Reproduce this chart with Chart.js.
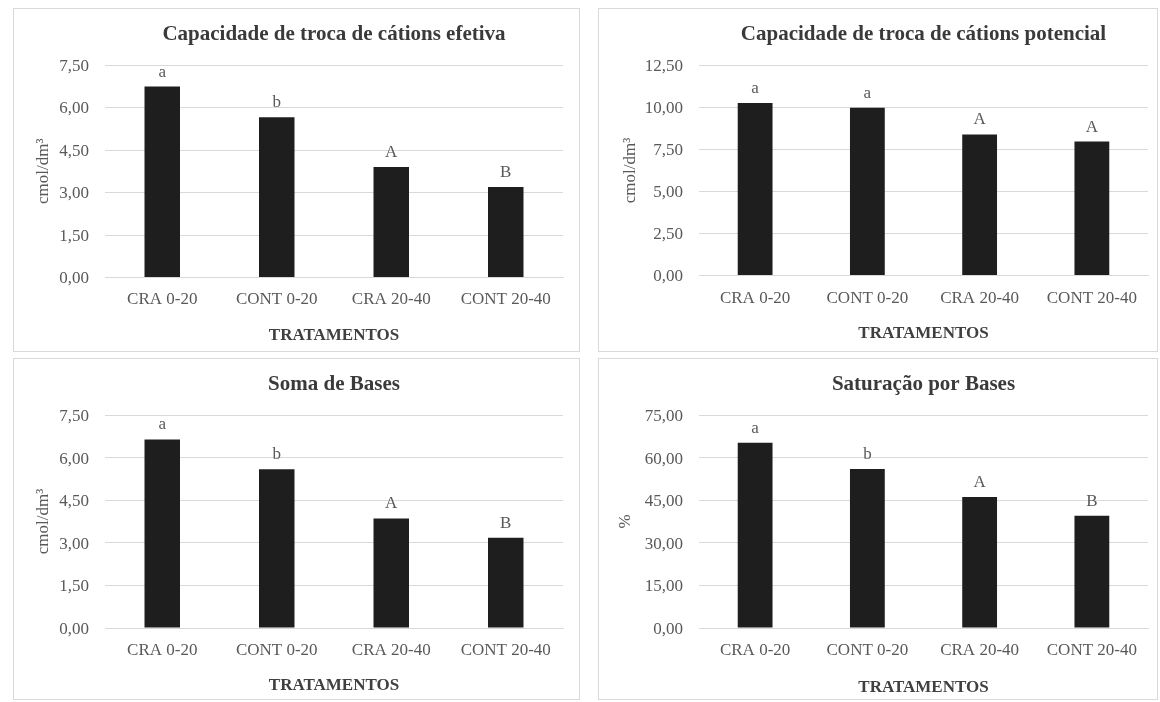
<!DOCTYPE html>
<html>
<head>
<meta charset="utf-8">
<title>Atributos químicos do solo</title>
<script src="https://cdn.jsdelivr.net/npm/chart.js@4.4.1/dist/chart.umd.min.js"></script>
<style>
  html, body { margin: 0; padding: 0; background: #ffffff; }
  body { width: 1160px; height: 702px; position: relative; overflow: hidden; }
  .panel { position: absolute; box-sizing: border-box; border: 1px solid #d9d9d9; background: #ffffff; }
  .panel canvas { display: block; }
</style>
</head>
<body>
<div class="panel" style="left:13px;top:8px;width:567px;height:344px"><canvas id="c1" width="565" height="342"></canvas></div>
<div class="panel" style="left:598px;top:8px;width:560px;height:344px"><canvas id="c2" width="558" height="342"></canvas></div>
<div class="panel" style="left:13px;top:358px;width:567px;height:342px"><canvas id="c3" width="565" height="340"></canvas></div>
<div class="panel" style="left:598px;top:358px;width:560px;height:342px"><canvas id="c4" width="558" height="340"></canvas></div>

<script>
// Tratamentos (eixo x, comum a todos os gráficos)
const categories = ['CRA 0-20', 'CONT 0-20', 'CRA 20-40', 'CONT 20-40'];

// CTC efetiva (cmol/dm³)
const ctcEfetiva = [6.74, 5.66, 3.90, 3.19];
const ctcEfetivaLetters = ['a', 'b', 'A', 'B'];
const ctcEfetivaTicks = [0, 1.5, 3, 4.5, 6, 7.5];

// CTC potencial (cmol/dm³)
const ctcPotencial = [10.27, 9.98, 8.40, 7.97];
const ctcPotencialLetters = ['a', 'a', 'A', 'A'];
const ctcPotencialTicks = [0, 2.5, 5, 7.5, 10, 12.5];

// Soma de bases (cmol/dm³)
const somaBases = [6.64, 5.59, 3.86, 3.18];
const somaBasesLetters = ['a', 'b', 'A', 'B'];
const somaBasesTicks = [0, 1.5, 3, 4.5, 6, 7.5];

// Saturação por bases (%)
const saturacao = [65.2, 56.0, 46.1, 39.5];
const saturacaoLetters = ['a', 'b', 'A', 'B'];
const saturacaoTicks = [0, 15, 30, 45, 60, 75];

const FONT = "'Liberation Serif', 'Times New Roman', serif";

// Letras de comparação de médias desenhadas acima de cada barra
const letterPlugin = {
  id: 'letters',
  afterDatasetsDraw(chart, args, opts) {
    const { ctx } = chart;
    const meta = chart.getDatasetMeta(0);
    ctx.save();
    ctx.font = '17px ' + FONT;
    ctx.fillStyle = '#595959';
    ctx.textAlign = 'center';
    ctx.textBaseline = 'middle';
    meta.data.forEach((bar, i) => {
      ctx.fillText(opts.labels[i], bar.x, bar.y - opts.gap);
    });
    ctx.restore();
  }
};

function fmt(v) {
  return Number(v).toFixed(2).replace('.', ',');
}

function makePanel(id, title, yTitle, values, letters, ticks, L) {
  return new Chart(document.getElementById(id), {
    type: 'bar',
    data: {
      labels: categories,
      datasets: [{
        data: values,
        backgroundColor: '#1e1e1e',
        borderWidth: 0,
        barPercentage: 0.31,
        categoryPercentage: 1.0
      }]
    },
    plugins: [letterPlugin],
    options: {
      responsive: false,
      animation: false,
      events: [],
      layout: { padding: { left: 0, right: L.padRight, top: 0, bottom: 0 } },
      plugins: {
        legend: { display: false },
        tooltip: { enabled: false },
        title: {
          display: true,
          text: title,
          fullSize: false,
          color: '#3a3a3a',
          font: { family: FONT, size: 21, weight: 'bold', lineHeight: 1.2 },
          padding: { top: L.titleTop, bottom: L.titleBottom }
        },
        letters: { labels: letters, gap: 14.5 }
      },
      scales: {
        x: {
          grid: { display: false, drawTicks: false },
          border: { display: true, color: '#d9d9d9', width: 1 },
          ticks: {
            color: '#595959',
            font: { family: FONT, size: 17, lineHeight: 1.2 },
            padding: L.xTickPad,
            maxRotation: 0,
            autoSkip: false
          },
          title: {
            display: true,
            text: 'TRATAMENTOS',
            color: '#404040',
            font: { family: FONT, size: 17, weight: 'bold', lineHeight: 1.2 },
            padding: { top: 0, bottom: L.xTitlePad }
          },
          afterFit(scale) { scale.height = L.xHeight; }
        },
        y: {
          min: ticks[0],
          max: ticks[ticks.length - 1],
          grid: { color: '#d9d9d9', lineWidth: 1, drawTicks: false },
          border: { display: false },
          afterBuildTicks(scale) { scale.ticks = ticks.map(v => ({ value: v })); },
          ticks: {
            color: '#595959',
            font: { family: FONT, size: 17, lineHeight: 1.2 },
            padding: L.yTickPad,
            labelOffset: 1.5,
            callback: (v) => fmt(v)
          },
          title: {
            display: true,
            text: yTitle,
            color: '#595959',
            font: { family: FONT, size: 17, lineHeight: 1.2 },
            padding: { top: L.yTitlePad, bottom: 0 }
          },
          afterFit(scale) { scale.width = L.yWidth; }
        }
      }
    }
  });
}

makePanel('c1', 'Capacidade de troca de cátions efetiva', 'cmol/dm³',
  ctcEfetiva, ctcEfetivaLetters, ctcEfetivaTicks,
  { padRight: 16, yWidth: 91, titleTop: 13.4, titleBottom: 17.4, xHeight: 73.5, xTickPad: 12.3, xTitlePad: 4.8, yTickPad: 16, yTitlePad: 19 });

makePanel('c2', 'Capacidade de troca de cátions potencial', 'cmol/dm³',
  ctcPotencial, ctcPotencialLetters, ctcPotencialTicks,
  { padRight: 9, yWidth: 100, titleTop: 13.4, titleBottom: 17.9, xHeight: 75.5, xTickPad: 13.3, xTitlePad: 6.8, yTickPad: 16, yTitlePad: 21 });

makePanel('c3', 'Soma de Bases', 'cmol/dm³',
  somaBases, somaBasesLetters, somaBasesTicks,
  { padRight: 16, yWidth: 91, titleTop: 13.4, titleBottom: 17.4, xHeight: 71, xTickPad: 12.8, xTitlePad: 3.3, yTickPad: 16, yTitlePad: 19 });

makePanel('c4', 'Saturação por Bases', '%',
  saturacao, saturacaoLetters, saturacaoTicks,
  { padRight: 9, yWidth: 100, titleTop: 13.4, titleBottom: 17.4, xHeight: 71, xTickPad: 12.8, xTitlePad: 1.5, yTickPad: 16, yTitlePad: 16 });
</script>
</body>
</html>
